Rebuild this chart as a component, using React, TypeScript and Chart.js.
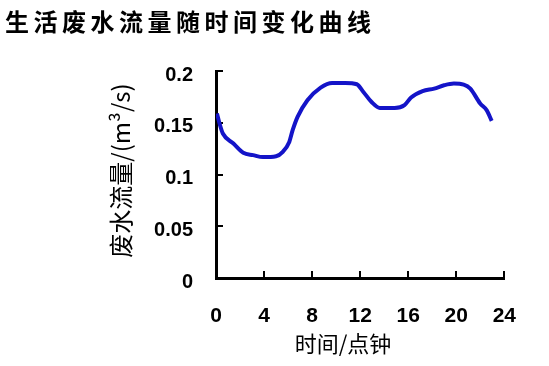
import React, { useEffect, useRef } from "react";
import { Chart, registerables } from "chart.js";

Chart.register(...registerables);

const TITLE = "生活废水流量随时间变化曲线";
const X_TITLE = "时间/点钟";
const Y_TITLE = "废水流量/(m³/s)";

const hours = [0.08, 0.3, 0.57, 1.45, 2.27, 3.09, 3.91, 5.0, 5.56, 6.1, 6.38, 6.79, 7.61, 8.71, 9.67, 10.76, 11.72, 12.27, 12.95, 13.64, 14.87, 15.69, 16.24, 17.2, 18.16, 18.98, 19.8, 20.62, 21.17, 21.99, 22.54, 22.95];
const flow = [0.159, 0.149, 0.1396, 0.130, 0.121, 0.1187, 0.1168, 0.1177, 0.1219, 0.1315, 0.1428, 0.1557, 0.1718, 0.184, 0.1885, 0.1885, 0.1872, 0.1798, 0.170, 0.1643, 0.1643, 0.167, 0.1744, 0.1805, 0.183, 0.1862, 0.1879, 0.1869, 0.183, 0.1686, 0.162, 0.1518];

const yLabelValues = [0, 0.05, 0.1, 0.15, 0.2];
const yLabelTexts = ["0", "0.05", "0.1", "0.15", "0.2"];

const textPlugin = {
  id: "textPlugin",
  afterDraw(chart: any) {
    const ctx = chart.ctx as CanvasRenderingContext2D;
    const area = chart.chartArea;
    ctx.save();
    ctx.fillStyle = "#000";
    // main title
    (ctx as any).letterSpacing = "4.5px";
    ctx.font = 'bold 24px "Noto Sans CJK SC"';
    ctx.textAlign = "left";
    ctx.textBaseline = "middle";
    ctx.fillText(TITLE, 5, 22);
    (ctx as any).letterSpacing = "0px";
    // x title
    ctx.font = '22px "Noto Sans CJK SC"';
    ctx.textAlign = "center";
    ctx.fillText(X_TITLE, area.left + 127, 344);
    // y title
    ctx.translate(121, (area.top + area.bottom) / 2 - 4);
    ctx.rotate(-Math.PI / 2);
    ctx.font = '24px "Noto Sans CJK SC"';
    ctx.fillText(Y_TITLE, 0, 0);
    ctx.restore();
  },
};

export default function App() {
  const ref = useRef<HTMLCanvasElement>(null);
  useEffect(() => {
    if (!ref.current) return;
    const chart = new Chart(ref.current, {
      type: "line",
      data: {
        datasets: [
          {
            data: hours.map((h, i) => ({ x: h, y: flow[i] })),
            borderColor: "#1414c8",
            borderWidth: 4,
            pointRadius: 0,
            tension: 0.4,
            cubicInterpolationMode: "monotone",
            fill: false,
          },
        ],
      },
      options: {
        responsive: false,
        animation: false,
        layout: { padding: { top: 71, right: 41, left: 0, bottom: 0 } },
        plugins: { legend: { display: false }, tooltip: { enabled: false }, title: { display: false } },
        scales: {
          x: {
            type: "linear",
            min: 0,
            max: 24,
            afterFit: (s: any) => { s.height = 88; },
            ticks: {
              stepSize: 4,
              color: "#000",
              padding: 33,
              font: { family: '"Liberation Sans", Arial', size: 21, weight: "bold" },
            },
            grid: { drawOnChartArea: false, tickLength: -7, color: "#000", lineWidth: 2 },
            border: { color: "#000", width: 3 },
          },
          y: {
            min: 0,
            max: 0.2,
            afterFit: (s: any) => { s.width = 216; },
            ticks: {
              stepSize: 0.025,
              color: "#000",
              padding: 30,
              labelOffset: 4,
              font: { family: '"Liberation Sans", Arial', size: 20, weight: "bold" },
              callback: (v: any) => {
                const idx = yLabelValues.findIndex((t) => Math.abs(t - Number(v)) < 1e-6);
                return idx >= 0 ? yLabelTexts[idx] : "";
              },
            },
            grid: { drawOnChartArea: false, tickLength: -7, color: "#000", lineWidth: 2 },
            border: { color: "#000", width: 3 },
          },
        },
      },
      plugins: [textPlugin],
    });
    return () => chart.destroy();
  }, []);
  return (
    <div style={{ position: "absolute", left: 0, top: 0, width: 549, height: 366, background: "#fff" }}>
      <canvas ref={ref} width={549} height={366} />
    </div>
  );
}
